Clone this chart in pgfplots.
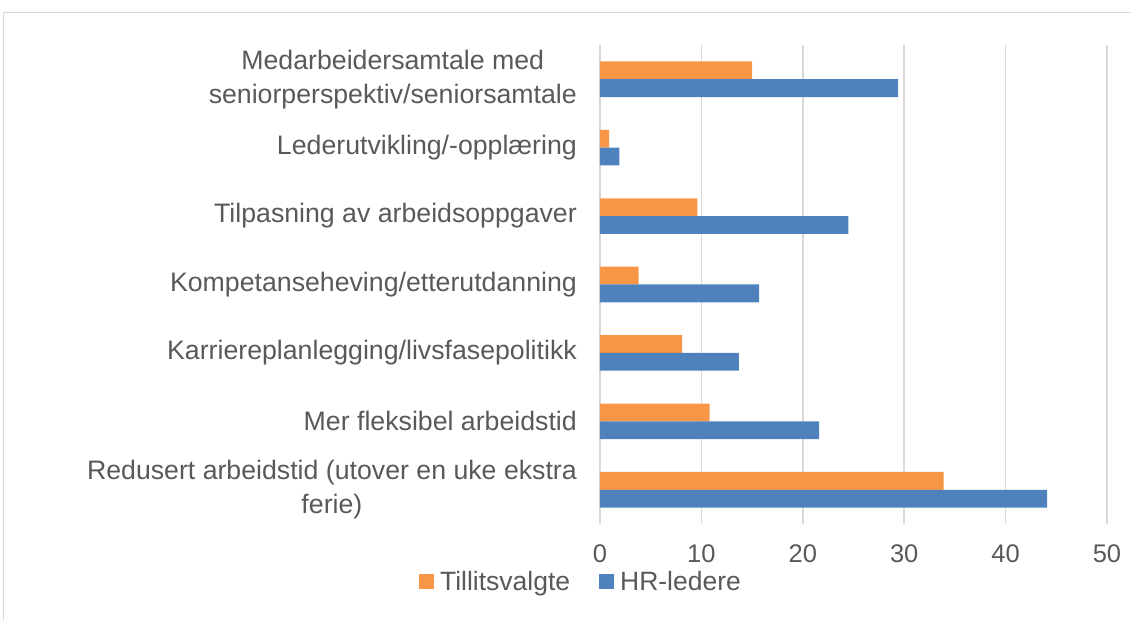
\documentclass[border=0pt]{standalone}
\usepackage{fontspec}
\setmainfont{Liberation Sans}
\usepackage{pgfplots}
\pgfplotsset{compat=1.18}
\definecolor{orangeX}{HTML}{F79646}
\definecolor{blueX}{HTML}{4F81BD}
\definecolor{gridX}{HTML}{D9D9D9}
\definecolor{textX}{HTML}{595959}
\begin{document}
\begin{tikzpicture}
\begin{axis}[
  at={(0pt,0pt)}, anchor=south west,
  scale only axis, width=507pt, height=479pt,
  xmin=0, xmax=50, ymin=-0.5, ymax=6.5,
  xtick={0,10,20,30,40,50},
  ytick={0,1,2,3,4,5,6},
  yticklabels={{Redusert arbeidstid (utover en uke ekstra\\ferie)},
    {Mer fleksibel arbeidstid},
    {Karriereplanlegging/livsfasepolitikk},
    {Kompetanseheving/etterutdanning},
    {Tilpasning av arbeidsoppgaver},
    {Lederutvikling/-opplæring},
    {Medarbeidersamtale med\\seniorperspektiv/seniorsamtale}},
  /pgf/number format/assume math mode=true,
  xmajorgrids, grid style={gridX, line width=1.5pt},
  axis line style={draw=none},
  major tick style={draw=none},
  yticklabel style={font=\fontsize{26.7}{34}\selectfont, text=textX, align=center, inner sep=0pt, xshift=-23pt},
  xticklabel style={font=\fontsize{25.5}{30}\selectfont, text=textX, yshift=-17pt},
  legend columns=2,
  legend style={draw=none, fill=none, font=\fontsize{26.5}{30}\selectfont, text=textX,
    at={(-0.0375,-0.121)}, anchor=center,
    /tikz/every even column/.append style={column sep=27pt}},
]
\addplot[xbar, bar width=0.26, bar shift=0.13, fill=orangeX, draw=none,
  legend image code/.code={\fill[orangeX] (0pt,-7.5pt) rectangle (15pt,7.5pt); \path (0pt,0pt) -- (19pt,0pt);}]
  coordinates {(33.9,0) (10.8,1) (8.1,2) (3.8,3) (9.6,4) (0.9,5) (15.0,6)};
\addlegendentry{Tillitsvalgte}
\addplot[xbar, bar width=0.26, bar shift=-0.13, fill=blueX, draw=none,
  legend image code/.code={\fill[blueX] (0pt,-7.5pt) rectangle (15pt,7.5pt); \path (0pt,0pt) -- (19pt,0pt);}]
  coordinates {(44.1,0) (21.6,1) (13.7,2) (15.7,3) (24.5,4) (1.9,5) (29.4,6)};
\addlegendentry{HR-ledere}
\end{axis}
\draw[gridX, line width=1pt] (-596pt,-96pt) -- (-596pt,511pt) -- (531pt,511pt);
\pgfresetboundingbox
\path[use as bounding box] (-600pt,-96pt) rectangle (531pt,524pt);
\end{tikzpicture}
\end{document}
